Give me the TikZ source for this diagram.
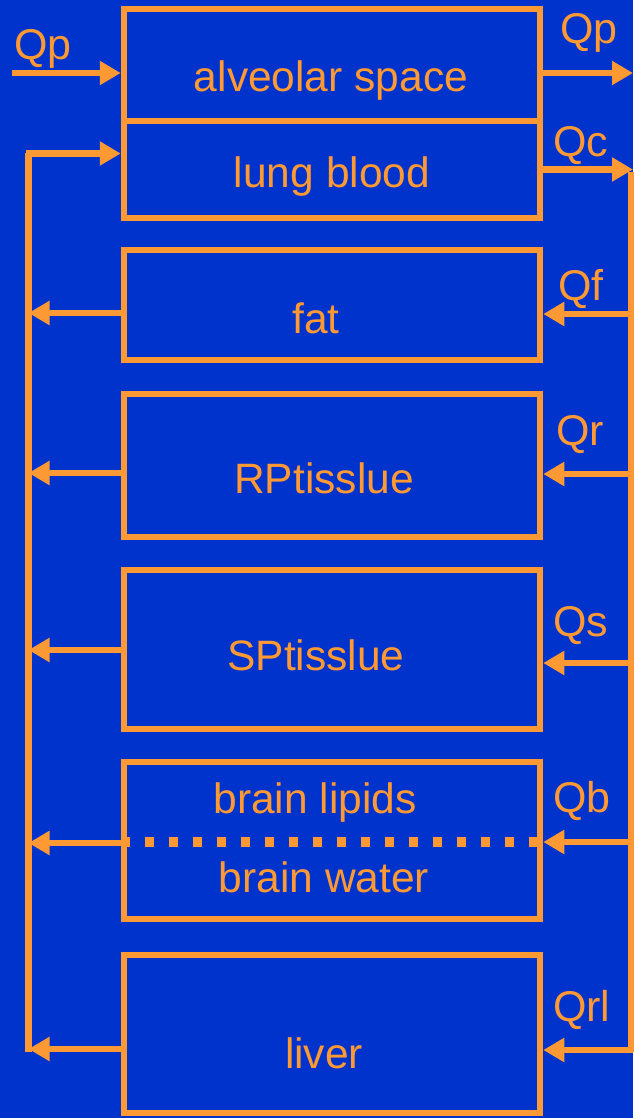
\documentclass[tikz,border=0pt]{standalone}
\usepackage{fontspec}
\setmainfont{Liberation Sans}
\usetikzlibrary{arrows.meta,calc}
\definecolor{bgblue}{RGB}{0,51,204}
\definecolor{ora}{RGB}{255,153,51}
\begin{document}
\begin{tikzpicture}[x=1pt,y=-1pt,
  box/.style={draw=ora,line width=6.5pt,minimum width=416pt,inner sep=0pt},
  lab/.style={text=ora,font=\fontsize{42.5}{50}\selectfont,inner sep=0pt,anchor=base},
  qlab/.style={text=ora,font=\fontsize{43}{50}\selectfont,inner sep=0pt,anchor=base west},
  flow/.style={draw=ora,line width=6.5pt,-{Triangle[length=21pt,width=23pt]}},
  wire/.style={draw=ora,line width=6.5pt}]
\fill[bgblue] (0,0) rectangle (633,1118);
\useasboundingbox (0,0) rectangle (633,1118);
% boxes
\node[box,minimum height=112pt] (alv) at (332,65) {};
\node[box,minimum height=97pt] (lung) at (332,169.5) {};
\node[box,minimum height=110pt] (fat) at (332,305) {};
\node[box,minimum height=143pt] (rp) at (332,465.5) {};
\node[box,minimum height=159pt] (sp) at (332,649.5) {};
\node[box,minimum height=157pt] (brain) at (332,840.5) {};
\node[box,minimum height=158pt] (liver) at (332,1034) {};
% texts
\node[lab] (talv) at (331,92) {alveolar space};
\node[lab] (tlung) at (332,188) {lung blood};
\node[lab] (tfat) at (316,333) {fat};
\node[lab] (trp) at (324,493) {RPtisslue};
\node[lab] (tsp) at (316,670) {SPtisslue};
\node[lab] (tbl) at (315,813) {brain lipids};
\node[lab] (tbw) at (324,892) {brain water};
\node[lab] (tliv) at (324,1068) {liver};
% dotted separator
\draw[ora,line width=10pt,dash pattern=on 9pt off 15pt] ($(brain.west)+(0,1.5)$) -- ($(brain.east)+(0,1.5)$);
% rails
\coordinate (L) at (28.5,153.5);
\coordinate (Lb) at (28.5,1052);
\coordinate (R) at (631,169.5);
\coordinate (Rb) at (631,1052);
\coordinate (pin) at (12,73);
\coordinate (pout) at (633,73);
\coordinate (cout) at (633,169.5);
% pulmonary
\draw[flow] (pin) -- (pin -| alv.west);
\draw[flow] (alv.east |- pout) -- (pout);
\draw[flow] (lung.east) -- (cout);
% venous return rail
\draw[wire] (Lb) -- (L);
\draw[flow] ([xshift=-3pt]L) -- (L -| lung.west);
% arterial rail
\draw[wire] ([yshift=-3pt]R) -- (Rb);
% tissue connections
\foreach \n/\dl/\dr in {fat/8/9, rp/7.5/8.5, sp/0.5/13.5, brain/2.5/1.5, liver/15/16}{
  \draw[flow] ($(\n.west)+(0,\dl)$) coordinate (a) -- (a -| L);
  \draw[flow] ($(\n.east)+(0,\dr)$) coordinate (b) (R |- b) ++(2,0) -- (b);
}
% flow labels
\node[qlab] (qpin) at (14,60) {Qp};
\node[qlab] (qpout) at (560,44) {Qp};
\node[qlab] (qc) at (553,157) {Qc};
\node[qlab] (qf) at (558,300) {Qf};
\node[qlab] (qr) at (556,445) {Qr};
\node[qlab] (qs) at (553,636) {Qs};
\node[qlab] (qb) at (553,812) {Qb};
\node[qlab] (qrl) at (553,1021) {Qrl};
\end{tikzpicture}
\end{document}
